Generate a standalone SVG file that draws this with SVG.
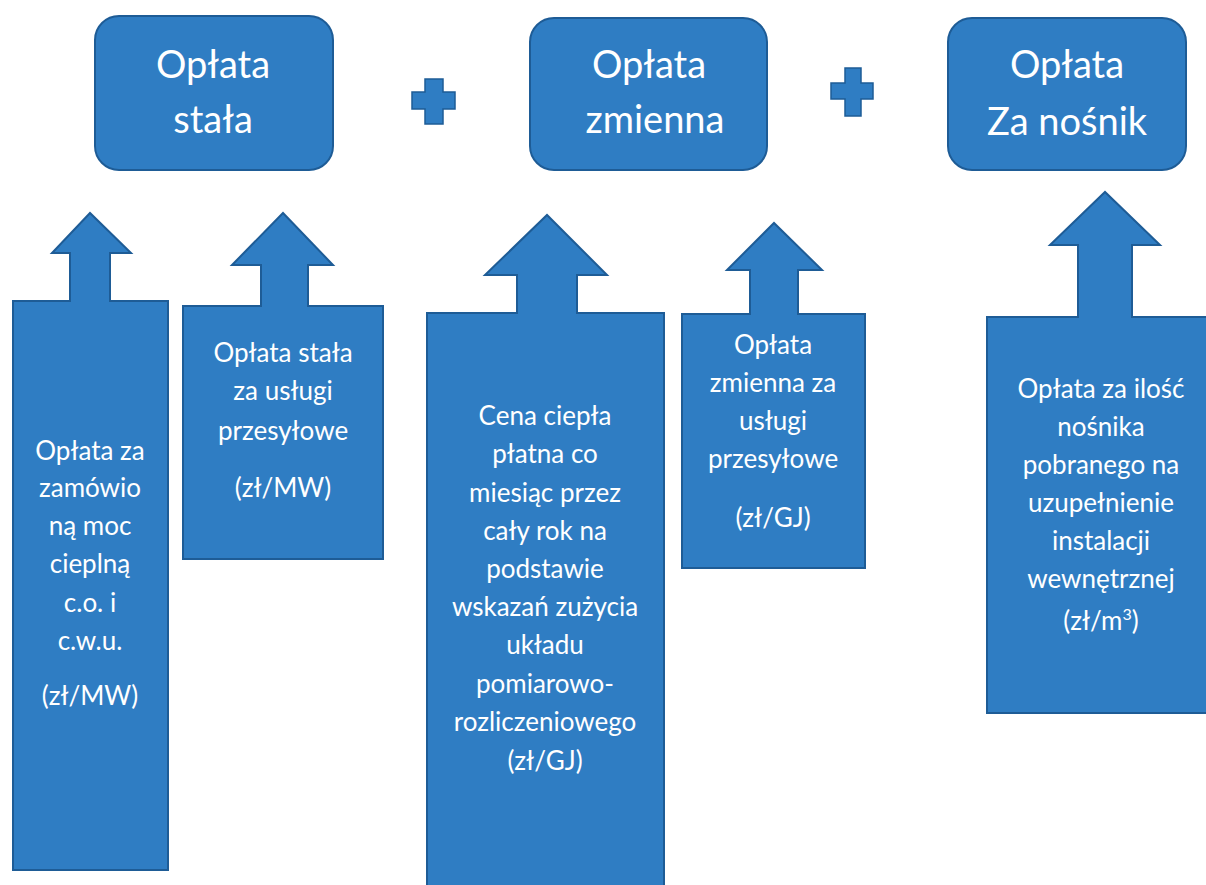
<svg xmlns="http://www.w3.org/2000/svg" width="1206" height="885" viewBox="0 0 1206 885">
<style>
.box{fill:#2F7DC3;stroke:#1E5C96;stroke-width:2}
.arr{fill:#2F7DC3;stroke:#1E5C96;stroke-width:2}
.plus{fill:#2F7DC3;stroke:#1E5C96;stroke-width:1.5}
.t1{font-family:Lato,"Open Sans",sans-serif;font-size:38px;fill:#fff;text-anchor:middle}
.t2{font-family:Lato,"Open Sans",sans-serif;font-size:26px;fill:#fff;text-anchor:middle}
</style>
<rect width="1206" height="885" fill="#fff"/>
<g id="box1"><rect class="box" x="95" y="16" width="238" height="154" rx="24"/><text class="t1" x="213" y="78">Opłata</text><text class="t1" x="213" y="133">stała</text></g>
<g id="box2"><rect class="box" x="530" y="18" width="237" height="152" rx="24"/><text class="t1" x="649" y="78">Opłata</text><text class="t1" x="655" y="133">zmienna</text></g>
<g id="box3"><rect class="box" x="948" y="18" width="238" height="152" rx="24"/><text class="t1" x="1067" y="78">Opłata</text><text class="t1" x="1067" y="135">Za nośnik</text></g>
<g id="plus1"><path class="plus" d="M425,79 H443 V92 H455 V109 H443 V124 H425 V109 H412 V92 H425 Z"/></g>
<g id="plus2"><path class="plus" d="M845,68 H861 V83 H873 V99 H861 V116 H845 V99 H831 V83 H845 Z"/></g>
<g id="connectors">
<g id="a1"><path class="arr" d="M13,301 H70 V253 H52 L90,213 L131,253 H110 V301 H168 V870 H13 Z"/>
<text class="t2" x="90" y="460">Opłata za</text><text class="t2" x="90" y="497">zamówio</text><text class="t2" x="90" y="535">ną moc</text><text class="t2" x="90" y="573">cieplną</text><text class="t2" x="90" y="612">c.o. i</text><text class="t2" x="90" y="650">c.w.u.</text><text class="t2" x="90" y="705">(zł/MW)</text></g>
<g id="a2"><path class="arr" d="M183,306 H261 V265 H232 L283,213 L333,265 H308 V306 H383 V559 H183 Z"/>
<text class="t2" x="283" y="362">Opłata stała</text><text class="t2" x="283" y="400">za usługi</text><text class="t2" x="283" y="440">przesyłowe</text><text class="t2" x="283" y="497">(zł/MW)</text></g>
<g id="a3"><path class="arr" d="M427,313 H517 V275 H485 L547,215 L607,275 H577 V313 H664 V890 H427 Z"/>
<text class="t2" x="545" y="425">Cena ciepła</text><text class="t2" x="545" y="463">płatna co</text><text class="t2" x="545" y="502">miesiąc przez</text><text class="t2" x="545" y="540">cały rok na</text><text class="t2" x="545" y="578">podstawie</text><text class="t2" x="545" y="616">wskazań zużycia</text><text class="t2" x="545" y="654">układu</text><text class="t2" x="545" y="693">pomiarowo-</text><text class="t2" x="545" y="731">rozliczeniowego</text><text class="t2" x="545" y="770">(zł/GJ)</text></g>
<g id="a4"><path class="arr" d="M682,314 H750 V270 H727 L774,223 L822,270 H798 V314 H865 V568 H682 Z"/>
<text class="t2" x="773" y="354">Opłata</text><text class="t2" x="773" y="392">zmienna za</text><text class="t2" x="773" y="430">usługi</text><text class="t2" x="773" y="468">przesyłowe</text><text class="t2" x="773" y="527">(zł/GJ)</text></g>
<g id="a5"><path class="arr" d="M987,317 H1078 V245 H1050 L1105,192 L1160,245 H1132 V317 H1210 V713 H987 Z"/>
<text class="t2" x="1101" y="398">Opłata za ilość</text><text class="t2" x="1101" y="436">nośnika</text><text class="t2" x="1101" y="474">pobranego na</text><text class="t2" x="1101" y="512">uzupełnienie</text><text class="t2" x="1101" y="550">instalacji</text><text class="t2" x="1101" y="588">wewnętrznej</text><text class="t2" x="1101" y="630">(zł/m<tspan font-size="16" dy="-10">3</tspan><tspan dy="10">)</tspan></text></g>
</g>
</svg>
